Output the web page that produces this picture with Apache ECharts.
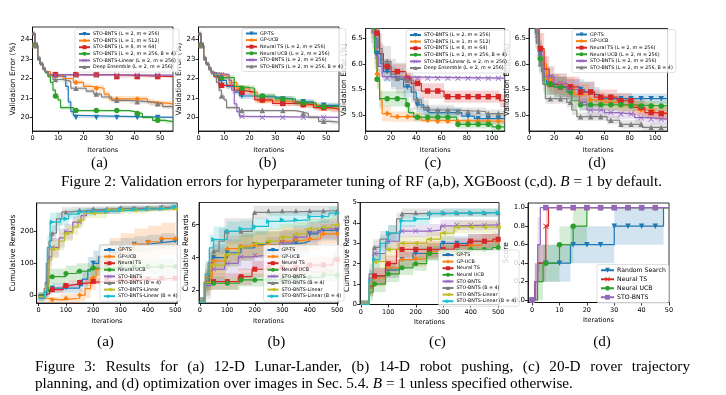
<!DOCTYPE html>
<html><head><meta charset="utf-8">
<script src="https://cdn.jsdelivr.net/npm/echarts@6/dist/echarts.min.js"></script>
<style>html,body{margin:0;padding:0;background:#fff}#c{width:726px;height:395px}</style>
</head><body><div id="c"></div>
<script>
// ===== Figure 2 (a): RF, methods of STO-BNTS. Each entry: [iteration, mean, spread]
const rfA_L2m256 = [[0,24.3,.1],[1,23.7,.1],[2,23.0,.1],[3,22.75,.1],[4,22.5,.05],[5,22.35,.05],[6,22.2,.05],[7,22.1,.05],[13,21.6,.2],[14,20.8,.2],[15,20.3,.15],[16,20.1,.1],[17,20.0,.05]];
const rfA_L1m512 = [[0,24.3,.1],[1,23.7,.1],[2,23.0,.1],[3,22.75,.1],[4,22.5,.1],[5,22.35,.05],[7,22.15,.05],[12,22.0,.1],[16,21.8,.15],[20,21.6,.15],[23,21.5,.15],[28,21.2,.15],[30,20.95,.15],[45,20.8,.15],[48,20.7,.15]];
const rfA_L8m64 = [[0,24.3,.1],[1,23.7,.1],[2,23.0,.1],[3,22.75,.1],[4,22.5,.05],[5,22.35,.05],[6,22.2,.05],[32,22.1,.05]];
const rfA_B4 = [[0,24.3,.1],[1,23.7,.1],[2,23.0,.1],[3,22.75,.1],[4,22.5,.1],[5,22.3,.1],[6,22.1,.1],[7,21.8,.15],[8,21.4,.15],[9,21.1,.15],[10,20.9,.1],[11,20.5,.1],[16,20.35,.05],[38,20.3,.05],[40,20.2,.1],[43,20.0,.1],[47,19.85,.1],[52,19.78,.1]];
const rfA_linear = [[0,24.3,.1],[1,23.7,.1],[2,23.0,.1],[3,22.75,.1],[4,22.5,.05],[5,22.35,.05],[6,22.2,.05],[8,22.17,.05]];
const rfA_ensemble = [[0,24.3,.1],[1,23.7,.1],[2,23.1,.1],[3,22.8,.1],[4,22.55,.1],[5,22.35,.1],[6,22.2,.1],[8,21.95,.1],[12,21.85,.1],[15,21.5,.1],[21,21.35,.1],[24,21.2,.1],[27,21.05,.1],[31,20.88,.1],[38,20.8,.1],[46,20.7,.1],[51,20.55,.1]];
// ===== Figure 2 (b): RF, baselines
const rfB_gpts = [[0,24.3,.1],[1,23.7,.1],[2,23.0,.1],[3,22.75,.1],[4,22.5,.1],[5,22.3,.1],[6,22.15,.1],[8,21.9,.15],[11,21.6,.15],[14,21.3,.15],[16,21.1,.15],[21,21.05,.15],[30,20.95,.15],[37,20.8,.15],[45,20.62,.15]];
const rfB_gpucb = [[0,24.3,.1],[1,23.7,.1],[2,23.0,.1],[3,22.75,.1],[4,22.5,.1],[5,22.3,.1],[6,22.2,.1],[10,22.1,.15],[12,21.8,.15],[15,21.5,.15],[20,21.3,.15],[23,20.85,.15],[35,20.75,.15],[40,20.63,.15],[47,20.47,.15]];
const rfB_nts = [[0,24.3,.1],[1,23.7,.1],[2,23.0,.1],[3,22.75,.1],[4,22.5,.1],[5,22.3,.1],[6,22.1,.1],[8,21.65,.15],[14,21.4,.15],[16,21.3,.15],[22,20.9,.15],[29,20.72,.15],[40,20.66,.15],[45,20.5,.15],[52,20.42,.15]];
const rfB_nucb = [[0,24.3,.1],[1,23.7,.1],[2,23.0,.1],[3,22.75,.1],[4,22.5,.1],[5,22.3,.1],[7,22.05,.15],[14,21.6,.15],[16,21.5,.15],[22,21.1,.15],[30,20.95,.15],[38,20.75,.15],[46,20.56,.15]];
const rfB_sto = [[0,24.3,.1],[1,23.7,.1],[2,23.0,.1],[3,22.75,.1],[4,22.5,.1],[5,22.3,.1],[6,22.2,.1],[12,21.9,.15],[13,21.4,.2],[14,20.7,.2],[15,20.3,.15],[16,20.05,.05],[18,20.0,.05]];
const rfB_stoB4 = [[0,24.3,.1],[1,23.7,.1],[2,23.1,.1],[3,22.8,.1],[4,22.55,.1],[5,22.35,.1],[6,22.15,.1],[7,21.8,.15],[8,21.4,.15],[9,21.1,.15],[10,20.9,.1],[11,20.5,.1],[16,20.35,.05],[38,20.3,.05],[40,20.2,.1],[43,20.0,.1],[47,19.8,.1],[52,19.75,.1]];
// ===== Figure 2 (c): XGBoost, methods of STO-BNTS
const xgC_L2m256 = [[0,7.2,.3],[4,6.9,.3],[7,6.5,.3],[9,6.2,.25],[12,6.0,.2],[14,5.85,.2],[20,5.75,.2],[24,5.7,.2],[30,5.55,.2],[36,5.45,.2],[40,5.2,.15],[46,5.1,.1],[50,5.05,.1],[76,4.98,.1],[86,4.93,.1]];
const xgC_L1m512 = [[0,7.2,.3],[4,6.8,.3],[7,6.3,.3],[9,5.8,.25],[11,5.3,.2],[13,5.03,.15],[20,4.97,.1],[44,4.9,.05],[55,4.88,.05]];
const xgC_L8m64 = [[0,7.3,.3],[5,6.9,.3],[8,6.6,.3],[11,6.2,.2],[14,5.95,.15],[20,5.85,.15],[32,5.72,.15],[36,5.62,.15],[44,5.47,.15],[62,5.36,.12],[106,5.28,.12]];
const xgC_B4 = [[0,7.1,.3],[4,6.7,.3],[7,6.2,.3],[9,5.7,.2],[11,5.32,.15],[32,5.2,.15],[34,5.05,.1],[38,4.96,.08],[72,4.82,.08],[100,4.77,.08]];
const xgC_linear = [[0,7.0,.3],[5,6.6,.3],[8,6.15,.2],[10,5.95,.15],[13,5.75,.05],[15,5.72,.03]];
const xgC_ensemble = [[0,7.4,.3],[6,6.8,.3],[10,6.3,.3],[13,6.05,.3],[20,5.8,.3],[24,5.72,.3],[32,5.68,.25],[38,5.3,.2],[44,5.15,.15],[50,5.1,.1],[70,5.07,.08],[95,5.03,.08]];
// ===== Figure 2 (d): XGBoost, baselines
const xgD_gpts = [[0,7.2,.3],[5,6.7,.3],[8,6.2,.25],[10,5.9,.25],[14,5.6,.2],[20,5.55,.2],[30,5.5,.2],[44,5.45,.2],[52,5.4,.15],[56,5.32,.1]];
const xgD_gpucb = [[0,7.1,.3],[5,6.7,.3],[8,6.3,.3],[10,6.0,.25],[14,5.7,.25],[20,5.6,.2],[30,5.55,.2],[36,5.4,.2],[48,5.3,.15],[60,5.25,.15],[72,5.2,.15],[86,5.1,.15],[100,5.05,.15]];
const xgD_nts = [[0,7.2,.3],[5,6.8,.3],[8,6.3,.3],[12,5.9,.25],[16,5.6,.2],[24,5.55,.2],[40,5.45,.2],[52,5.35,.15],[70,5.28,.15],[82,5.15,.15],[92,5.05,.12],[100,5.03,.12]];
const xgD_nucb = [[0,7.2,.3],[5,6.6,.3],[8,6.1,.25],[10,5.85,.2],[12,5.6,.2],[20,5.55,.2],[30,5.45,.15],[34,5.28,.15],[40,5.2,.12],[80,5.18,.1]];
const xgD_sto = [[0,7.1,.3],[5,6.7,.3],[8,6.2,.25],[10,5.9,.2],[12,5.75,.2],[20,5.62,.2],[30,5.5,.2],[40,5.25,.15],[46,5.1,.12],[60,5.05,.1],[70,5.02,.1],[84,4.95,.1],[96,4.92,.1]];
const xgD_stoB4 = [[0,7.2,.3],[4,6.8,.3],[6,6.4,.3],[8,6.0,.2],[11,5.6,.15],[13,5.32,.1],[30,5.25,.1],[34,5.1,.1],[38,4.97,.08],[62,4.9,.08],[72,4.82,.08],[90,4.76,.08]];
// ===== Figure 3 (a): Lunar-Lander
const llA_gpts = [[0,0,10],[30,15,15],[50,22,15],[150,30,20],[160,50,30],[180,80,40],[200,100,40],[220,120,40],[260,135,35],[300,150,30],[350,160,25],[400,165,25],[450,170,25]];
const llA_gpucb = [[0,-10,10],[30,-15,10],[80,-10,15],[150,0,20],[170,20,30],[190,55,40],[210,80,45],[230,110,50],[260,130,50],[300,145,50],[350,160,50],[400,168,50],[450,178,50]];
const llA_nts = [[0,0,5],[25,5,10],[40,17,10],[90,30,10],[110,35,10],[150,40,10],[200,43,10],[250,47,10],[350,50,10],[450,53,10]];
const llA_nucb = [[0,0,10],[25,10,15],[35,58,25],[90,58,25],[100,68,25],[140,75,25],[190,85,25],[230,90,25]];
const llA_sto = [[0,-5,10],[25,40,20],[38,120,30],[48,150,30],[75,180,30],[95,200,25],[125,230,20],[155,250,15],[175,265,10],[300,272,8],[450,276,8]];
const llA_stoB4 = [[0,-10,10],[20,20,20],[28,100,40],[38,170,30],[48,195,25],[65,240,20],[85,262,15],[120,268,10],[200,272,8],[300,275,8],[450,278,8]];
const llA_lin = [[0,-5,10],[25,30,20],[38,110,30],[48,145,30],[75,170,30],[95,195,25],[125,215,25],[145,235,20],[165,258,15],[250,268,10],[400,272,8]];
const llA_linB4 = [[0,-10,10],[22,10,20],[32,150,40],[42,230,30],[80,240,20],[110,255,15],[150,262,12],[200,265,10],[300,270,8],[400,273,8],[480,278,8]];
// ===== Figure 3 (b): robot pushing
const rpB_gpts = [[0,1.3,.3],[20,2.5,.8],[35,3.5,.8],[45,4.0,.8],[100,4.3,.8],[150,4.6,.8],[200,4.8,.8],[300,4.9,.8],[380,5.0,.8],[400,5.45,.7],[430,5.65,.6]];
const rpB_gpucb = [[0,1.3,.3],[20,2.8,.8],[45,3.8,.8],[95,4.55,.8],[150,4.7,.8],[200,4.8,.8],[300,5.0,.8],[350,5.1,.7],[400,5.15,.7],[440,5.45,.6]];
const rpB_nts = [[0,1.3,.3],[20,2.55,.5],[140,2.85,.5],[190,3.3,.5],[240,3.4,.5],[390,3.55,.5],[485,3.9,.5]];
const rpB_nucb = [[0,1.3,.3],[20,2.45,.4],[145,2.65,.4],[340,2.8,.4],[450,2.95,.4]];
const rpB_sto = [[0,1.3,.3],[20,2.3,.8],[40,3.3,.8],[90,3.65,.8],[140,4.05,.8],[190,4.15,.8],[240,4.45,.8],[290,4.9,.7],[340,5.25,.7],[390,5.55,.6],[440,5.75,.6]];
const rpB_stoB4 = [[0,1.3,.3],[15,2.5,.6],[30,3.7,.8],[50,4.4,.8],[70,5.0,.8],[90,5.6,.8],[190,5.65,.6],[195,6.75,.4],[250,6.85,.3]];
const rpB_lin = [[0,1.3,.3],[20,2.5,.8],[40,3.55,.8],[90,4.2,.8],[140,4.65,.8],[190,4.85,.8],[240,5.0,.8],[290,5.25,.8],[340,5.45,.7],[390,5.75,.6],[440,5.85,.6],[480,6.0,.6]];
const rpB_linB4 = [[0,1.3,.3],[20,3.0,.8],[35,4.6,.8],[50,5.1,.8],[100,5.6,.6],[150,5.75,.5],[200,5.9,.5],[250,6.2,.5],[300,6.3,.5],[400,6.5,.4],[470,6.7,.4]];
// ===== Figure 3 (c): rover trajectory
const rvC_gpts = [[0,0,.2],[30,0.8,.4],[45,1.4,.4],[90,1.7,.4],[140,2.2,.4],[190,2.5,.4],[240,2.6,.4],[290,3.0,.35],[390,3.1,.35]];
const rvC_gpucb = [[0,0,.2],[30,0.8,.4],[45,1.3,.4],[90,1.8,.4],[140,2.2,.4],[190,2.25,.4],[240,2.6,.4],[390,2.9,.35],[440,3.1,.35]];
const rvC_nts = [[0,0,.2],[30,0.9,.4],[45,1.4,.4],[90,2.0,.4],[130,2.7,.4],[340,2.9,.35],[390,3.1,.35],[480,3.2,.3]];
const rvC_nucb = [[0,0,.2],[30,0.6,.4],[45,1.0,.4],[90,1.5,.4],[140,1.8,.35],[190,2.0,.35],[240,2.5,.35],[290,2.6,.3],[390,2.7,.3],[480,2.8,.3]];
const rvC_sto = [[0,0,.2],[30,1.3,.4],[45,2.5,.4],[90,3.1,.4],[140,3.6,.3],[250,3.65,.3],[290,3.85,.3],[350,3.9,.25]];
const rvC_stoB4 = [[0,0,.2],[30,1.5,.5],[45,2.8,.4],[70,3.2,.4],[100,3.5,.4],[130,4.2,.3],[150,4.45,.25],[200,4.5,.2]];
const rvC_lin = [[0,0,.2],[30,1.0,.4],[45,2.1,.4],[90,2.7,.4],[140,3.0,.35],[240,3.2,.35],[290,3.5,.35],[340,3.8,.3]];
const rvC_linB4 = [[0,0,.2],[30,1.2,.5],[45,2.2,.4],[70,3.0,.4],[100,3.5,.4],[145,4.1,.3],[200,4.2,.3],[250,4.45,.2],[300,4.5,.2]];
// ===== Figure 3 (d): optimization over images
const imD_random = [[0,0,0],[1,0.2,.2],[2,0.4,.2],[14,0.6,.2],[30,0.8,.2],[48,1.0,0]];
const imD_nts = [[0,0,0],[1,0.2,.2],[2,0.4,.2],[5,0.8,.2],[6,1.0,0]];
const imD_nucb = [[0,0,0],[2,0.2,.2],[4,0.4,.2],[10,0.6,.2],[15,0.8,.2],[20,1.0,0]];
const imD_sto = [[0,0,0],[1,0.2,.2],[2,0.6,.3],[3,1.0,0]];

// ===== labels / ticks
const rfLabels = ['STO-BNTS (L = 2, m = 256)','STO-BNTS (L = 1, m = 512)','STO-BNTS (L = 8, m = 64)','STO-BNTS (L = 2, m = 256, B = 4)','STO-BNTS-Linear (L = 2, m = 256)','Deep Ensemble (L = 2, m = 256)'];
const baseLabels = ['GP-TS','GP-UCB','Neural TS (L = 2, m = 256)','Neural UCB (L = 2, m = 256)','STO-BNTS (L = 2, m = 256)','STO-BNTS (L = 2, m = 256, B = 4)'];
const rlLabels = ['GP-TS','GP-UCB','Neural TS','Neural UCB','STO-BNTS','STO-BNTS (B = 4)','STO-BNTS-Linear','STO-BNTS-Linear (B = 4)'];
const imgLabels = ['Random Search','Neural TS','Neural UCB','STO-BNTS'];
const subLabels = ['(a)','(b)','(c)','(d)'];
const markTopShort = [1,9,17,25,33,41,49];
const markTopLong = [1,9,17,25,33,41,49,57,65,73,81,89,97,105];
const markBottom = [50,100,150,200,250,300,350,400,450,500];
const markImage = [0,5,10,15,20,25,30,35,40,45];
const fig2Caption = 'Figure 2: Validation errors for hyperparameter tuning of RF (a,b), XGBoost (c,d). {i|B} = 1 by default.';
const fig3Line1 = 'Figure 3: Results for (a) 12-D Lunar-Lander, (b) 14-D robot pushing, (c) 20-D rover trajectory';
const fig3Line2 = 'planning, and (d) optimization over images in Sec. 5.4. {i|B} = 1 unless specified otherwise.';

// ===== styling
const C = {blue:'#1f77b4', orange:'#ff7f0e', green:'#2ca02c', red:'#d62728', purple:'#9467bd', grey:'#7f7f7f', olive:'#bcbd22', cyan:'#17becf'};
const XPATH = 'path://M0,1L1,0L5,4L9,0L10,1L6,5L10,9L9,10L5,6L1,10L0,9L4,5Z';
const MK = {
  down:{symbol:'triangle', rotate:180}, diamond:{symbol:'diamond', rotate:0}, square:{symbol:'rect', rotate:0},
  circle:{symbol:'circle', rotate:0}, x:{symbol:XPATH, rotate:0}, up:{symbol:'triangle', rotate:0},
  left:{symbol:'triangle', rotate:90}, right:{symbol:'triangle', rotate:-90}
};
const SANS = 'DejaVu Sans';
const SERIF = '"Liberation Serif", "Times New Roman", serif';
const CAPSIZE = 15.2;

const panels = [
  {id:'ta', grid:[32.5,27,140.5,104], xEnd:55, x:{min:0,max:55,interval:10,sMin:true,sMax:false}, y:{min:19.3,max:24.65,split:5,sMin:false,sMax:false},
   yName:'Validation Error (%)', yNameX:13.5, yFont:7, marks:markTopShort, ms:5.5, labels:rfLabels, legend:[75,29], cap:[99.5,163],
   series:[[rfA_L2m256,C.blue,'down'],[rfA_L1m512,C.orange,'diamond'],[rfA_L8m64,C.red,'square'],[rfA_B4,C.green,'circle'],[rfA_linear,C.purple,'x'],[rfA_ensemble,C.grey,'up']]},
  {id:'tb', grid:[198.5,27,140.5,104], xEnd:55, x:{min:0,max:55,interval:10,sMin:true,sMax:false}, y:{min:19.3,max:24.65,split:5,sMin:false,sMax:false},
   yName:'Validation Error (%)', yNameX:179.5, yFont:7, marks:markTopShort, ms:5.5, labels:baseLabels, legend:[242,28.5], cap:[267.6,163],
   series:[[rfB_gpts,C.blue,'down'],[rfB_gpucb,C.orange,'diamond'],[rfB_nts,C.red,'square'],[rfB_nucb,C.green,'circle'],[rfB_sto,C.purple,'x'],[rfB_stoB4,C.grey,'up']]},
  {id:'tc', grid:[365.7,28.5,139,102.5], xEnd:110, x:{min:0,max:110,interval:20,sMin:true,sMax:false}, y:{min:4.69,max:6.69,split:5,sMin:false,sMax:false,dec:1},
   yName:'Validation Error (%)', yNameX:344, yFont:7, marks:markTopLong, ms:5.5, labels:rfLabels, legend:[406,30], cap:[433,163],
   series:[[xgC_L2m256,C.blue,'down'],[xgC_L1m512,C.orange,'diamond'],[xgC_L8m64,C.red,'square'],[xgC_B4,C.green,'circle'],[xgC_linear,C.purple,'x'],[xgC_ensemble,C.grey,'up']]},
  {id:'td', grid:[529,28.5,138.5,102.5], xEnd:110, x:{min:0,max:110,interval:20,sMin:true,sMax:false}, y:{min:4.69,max:6.69,split:5,sMin:false,sMax:false,dec:1},
   yName:'Validation Error (%)', yNameX:507.5, yFont:7, marks:markTopLong, ms:5.5, labels:baseLabels, legend:[572,29.5], cap:[597,163],
   series:[[xgD_gpts,C.blue,'down'],[xgD_gpucb,C.orange,'diamond'],[xgD_nts,C.red,'square'],[xgD_nucb,C.green,'circle'],[xgD_sto,C.purple,'x'],[xgD_stoB4,C.grey,'up']]},
  {id:'ba', grid:[36.7,203,140.5,100], xEnd:500, x:{min:-7,max:507,split:5,sMin:false,sMax:false}, y:{min:-25,max:290,split:3,sMin:false,sMax:false},
   yName:'Cumulative Rewards', yNameX:13, yFont:7, marks:markBottom, ms:5, labels:rlLabels, legend:[100,245], cap:[105.5,342],
   series:[[llA_gpts,C.blue,'down'],[llA_gpucb,C.orange,'diamond'],[llA_nts,C.red,'square'],[llA_nucb,C.green,'circle'],[llA_sto,C.purple,'x'],[llA_stoB4,C.grey,'up'],[llA_lin,C.olive,'left'],[llA_linB4,C.cyan,'right']]},
  {id:'bb', grid:[199,202.5,139,100.5], xEnd:500, x:{min:-3,max:503,split:5,sMin:false,sMax:false}, y:{min:1.25,max:7.35,split:3,sMin:false,sMax:false},
   yName:'Cumulative Rewards', yNameX:186, yFont:7, marks:markBottom, ms:5, labels:rlLabels, legend:[263.5,245], cap:[276.4,342],
   series:[[rpB_gpts,C.blue,'down'],[rpB_gpucb,C.orange,'diamond'],[rpB_nts,C.red,'square'],[rpB_nucb,C.green,'circle'],[rpB_sto,C.purple,'x'],[rpB_stoB4,C.grey,'up'],[rpB_lin,C.olive,'left'],[rpB_linB4,C.cyan,'right']]},
  {id:'bc', grid:[360,202.5,139,102], xEnd:500, x:{min:-3,max:503,split:5,sMin:false,sMax:false}, y:{min:0,max:5,split:5,sMin:true,sMax:true},
   yName:'Cumulative Rewards', yNameX:347, yFont:7, marks:markBottom, ms:5, labels:rlLabels, legend:[438.5,250], cap:[437.5,342],
   series:[[rvC_gpts,C.blue,'down'],[rvC_gpucb,C.orange,'diamond'],[rvC_nts,C.red,'square'],[rvC_nucb,C.green,'circle'],[rvC_sto,C.purple,'x'],[rvC_stoB4,C.grey,'up'],[rvC_lin,C.olive,'left'],[rvC_linB4,C.cyan,'right']]},
  {id:'bd', grid:[528,203,141,99.5], xEnd:50, x:{min:-1.5,max:50,split:5,sMin:false,sMax:true}, y:{min:-0.025,max:1.05,split:5,sMin:false,sMax:false,dec:1},
   yName:'Score', yNameX:506, yFont:7, marks:markImage, ms:5.5, labels:imgLabels, legend:[597,264.5], cap:[602,342], big:true,
   series:[[imD_random,C.blue,'down'],[imD_nts,C.red,'x'],[imD_nucb,C.green,'circle'],[imD_sto,C.purple,'square']]}
];

function stepAt(d, x) { let y = d[0][1]; for (const p of d) { if (p[0] <= x) y = p[1]; else break; } return y; }

function bandRenderer(d, xEnd, color) {
  return function (params, api) {
    const cs = params.coordSys;
    const cy = v => Math.max(cs.y, Math.min(cs.y + cs.height, v));
    const cx = v => Math.max(cs.x, Math.min(cs.x + cs.width, v));
    const up = [], lo = [];
    for (let i = 0; i < d.length; i++) {
      const x0 = d[i][0], x1 = i + 1 < d.length ? d[i + 1][0] : xEnd;
      up.push(api.coord([x0, d[i][1] + d[i][2]]), api.coord([x1, d[i][1] + d[i][2]]));
      lo.push(api.coord([x0, d[i][1] - d[i][2]]), api.coord([x1, d[i][1] - d[i][2]]));
    }
    const pts = up.concat(lo.reverse()).map(p => [cx(p[0]), cy(p[1])]);
    return {type:'polygon', shape:{points:pts}, style:{fill:color, opacity:0.2}, silent:true};
  };
}

const grids = [], xAxes = [], yAxes = [], series = [], legends = [], graphics = [];
const axisLineStyle = {color:'#000', width:0.8};

panels.forEach((p, gi) => {
  const top = p.id[0] === 't';
  grids.push({left:p.grid[0], top:p.grid[1], width:p.grid[2], height:p.grid[3], show:true, borderColor:'#000', borderWidth:0.8, backgroundColor:'transparent', containLabel:false});
  const xa = {type:'value', gridIndex:gi, min:p.x.min, max:p.x.max,
    axisLine:{show:true, onZero:false, lineStyle:axisLineStyle}, axisTick:{show:true, length:3, lineStyle:axisLineStyle},
    axisLabel:{fontSize:6.5, color:'#000', fontFamily:SANS, margin:4, showMinLabel:p.x.sMin, showMaxLabel:p.x.sMax},
    splitLine:{show:false}, name:'Iterations', nameLocation:'middle', nameGap: top ? 16 : 14.5,
    nameTextStyle:{fontSize:6.5, color:'#000', fontFamily:SANS}};
  if (p.x.interval) xa.interval = p.x.interval; else xa.splitNumber = p.x.split;
  xAxes.push(xa);
  yAxes.push({type:'value', gridIndex:gi, min:p.y.min, max:p.y.max, splitNumber:p.y.split,
    axisLine:{show:true, onZero:false, lineStyle:axisLineStyle}, axisTick:{show:true, length:3, lineStyle:axisLineStyle},
    axisLabel:{fontSize:p.yFont, color:'#000', fontFamily:SANS, margin:3, showMinLabel:p.y.sMin, showMaxLabel:p.y.sMax,
      formatter: p.y.dec ? (v => v.toFixed(p.y.dec)) : (v => String(Math.round(v)))},
    splitLine:{show:false}});
  // y axis title as rotated text
  graphics.push({type:'text', x:p.yNameX, y:p.grid[1] + p.grid[3] / 2, rotation:Math.PI / 2,
    style:{text:p.yName, fontFamily:SANS, fontSize:7.5, fill:'#000', align:'center', verticalAlign:'middle'}});

  const names = [];
  p.series.forEach((s, k) => {
    const [d, color, mk] = s;
    const m = MK[mk];
    const name = p.id + '|' + p.labels[k];
    names.push(name);
    series.push({type:'custom', coordinateSystem:'cartesian2d', xAxisIndex:gi, yAxisIndex:gi, data:[[d[0][0], d[0][1]]],
      renderItem:bandRenderer(d, p.xEnd, color), silent:true, z:1});
    const lineData = d.map(q => [q[0], q[1]]);
    lineData.push([p.xEnd, d[d.length - 1][1]]);
    series.push({type:'line', name, xAxisIndex:gi, yAxisIndex:gi, data:lineData, step:'end', showSymbol:false,
      symbol:m.symbol, symbolRotate:m.rotate, symbolSize:p.ms, color, lineStyle:{width:1.2, color}, itemStyle:{color}, z:2, silent:true});
    series.push({type:'scatter', xAxisIndex:gi, yAxisIndex:gi, data:p.marks.map(x => [x, stepAt(d, x)]),
      symbol:m.symbol, symbolRotate:m.rotate, symbolSize:p.ms, itemStyle:{color, opacity:1}, z:3, silent:true});
  });
  legends.push({data:names, orient:'vertical', left:p.legend[0], top:p.legend[1], selectedMode:false,
    itemWidth: p.big ? 13 : 11, itemHeight: p.big ? 6 : 5, itemGap: p.big ? 1.5 : 0.6, padding:[2,3,2,3],
    backgroundColor:'rgba(255,255,255,0.8)', borderColor:'#cccccc', borderWidth:0.6, borderRadius:2,
    textStyle:{fontSize: p.big ? 6.2 : 4.8, lineHeight: p.big ? 7.5 : 6, color:'#000', fontFamily:SANS, padding:[0,0,0,-2]},
    formatter: n => n.split('|')[1]});
  graphics.push({type:'text', x:p.cap[0], y:p.cap[1], style:{text:subLabels[gi % 4], fontFamily:SERIF, fontSize:CAPSIZE, fill:'#000', align:'center', verticalAlign:'middle'}});
});

// captions
const capRich = {i:{fontStyle:'italic', fontFamily:SERIF, fontSize:CAPSIZE, fill:'#000'}};
graphics.push({type:'text', x:361.5, y:182, style:{text:fig2Caption, rich:capRich, fontFamily:SERIF, fontSize:CAPSIZE, fill:'#000', align:'center', verticalAlign:'middle'}});
// justified first line of the Figure 3 caption
(function () {
  const words = fig3Line1.split(' ');
  const ctx = document.createElement('canvas').getContext('2d');
  ctx.font = CAPSIZE + 'px "Liberation Serif"';
  const ws = words.map(w => ctx.measureText(w).width);
  const total = ws.reduce((a, b) => a + b, 0);
  const x0 = 35, x1 = 690;
  const gap = Math.max(3.5, (x1 - x0 - total) / (words.length - 1));
  let x = x0;
  words.forEach((w, i) => {
    graphics.push({type:'text', x, y:367, style:{text:w, fontFamily:SERIF, fontSize:CAPSIZE, fill:'#000', align:'left', verticalAlign:'middle'}});
    x += ws[i] + gap;
  });
})();
graphics.push({type:'text', x:35, y:384, style:{text:fig3Line2, rich:capRich, fontFamily:SERIF, fontSize:CAPSIZE, fill:'#000', align:'left', verticalAlign:'middle'}});

const chart = echarts.init(document.getElementById('c'), null, {renderer:'canvas'});
chart.setOption({
  animation:false, backgroundColor:'#ffffff',
  grid:grids, xAxis:xAxes, yAxis:yAxes, series, legend:legends, graphic:graphics
});
</script></body></html>
